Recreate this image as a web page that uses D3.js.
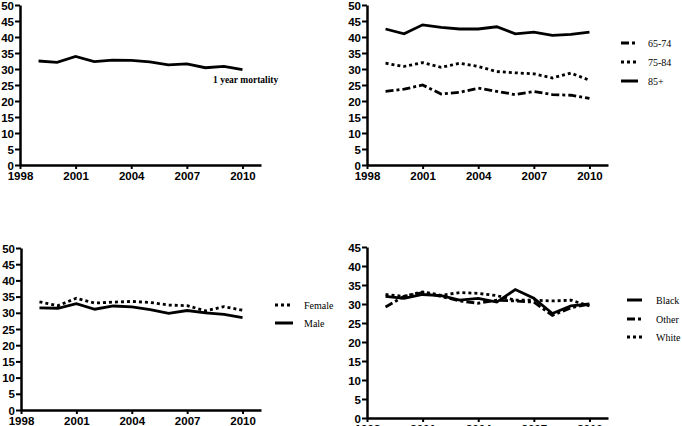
<!DOCTYPE html>
<html><head><meta charset="utf-8">
<script src="https://cdn.jsdelivr.net/npm/d3@7"></script>
<style>body{margin:0;background:#fff}svg{display:block}</style>
</head><body>
<script>
const years = [1999,2000,2001,2002,2003,2004,2005,2006,2007,2008,2009,2010];
const xTicks = [1998,2001,2004,2007,2010];
const overall = [32.5,32.1,33.9,32.3,32.8,32.7,32.2,31.3,31.6,30.4,30.8,29.8];
const age6574 = [23.0,23.7,25.0,22.2,22.7,24.0,23.0,22.0,23.0,22.0,21.8,20.8];
const age7584 = [31.8,30.8,32.0,30.5,31.8,30.8,29.2,28.8,28.5,27.2,28.7,26.5];
const age85 = [42.5,41.0,43.8,43.0,42.5,42.5,43.2,41.0,41.5,40.5,40.8,41.5];
const female = [33.4,32.2,34.5,33.0,33.3,33.5,33.2,32.4,32.2,30.6,31.9,30.8];
const male = [31.5,31.4,32.8,31.1,32.1,31.8,31.0,29.8,30.7,30.0,29.5,28.5];
const black = [32.0,31.5,32.5,32.2,31.0,31.5,30.5,33.8,31.5,27.5,29.5,30.0];
const other = [29.2,32.0,33.0,32.0,30.8,30.2,31.0,30.8,30.5,27.0,29.0,30.0];
const white = [32.5,32.0,33.2,32.3,33.0,32.8,32.2,31.0,31.0,30.8,31.0,29.5];
const yTicks50 = [0,5,10,15,20,25,30,35,40,45,50];
const yTicks45 = [0,5,10,15,20,25,30,35,40,45];

const W = 682, H = 426;
const svg = d3.select("body").append("svg").attr("width", W).attr("height", H);

const DOT = "3,3", DASHDOT = "8,3,3,3";

const panels = [
  {x0:20, x1:261, yb:165, yt:5, ymax:50, ticks:yTicks50,
   series:[{name:"1 year mortality", v:overall, dash:null}],
   legend:{type:"label", x:213, y:83}},
  {x0:367, x1:608, yb:165, yt:5, ymax:50, ticks:yTicks50,
   series:[{name:"65-74", v:age6574, dash:DASHDOT},{name:"75-84", v:age7584, dash:DOT},{name:"85+", v:age85, dash:null}],
   legend:{type:"lines", lx0:621, lx1:638, tx:648, ys:[43,62,81]}},
  {x0:21, x1:261, yb:410, yt:248, ymax:50, ticks:yTicks50,
   series:[{name:"Female", v:female, dash:DOT},{name:"Male", v:male, dash:null}],
   legend:{type:"lines", lx0:275, lx1:293, tx:304, ys:[305,323]}},
  {x0:367, x1:608, yb:418, yt:247, ymax:45, ticks:yTicks45,
   series:[{name:"Black", v:black, dash:null},{name:"Other", v:other, dash:DASHDOT},{name:"White", v:white, dash:DOT}],
   legend:{type:"lines", lx0:627, lx1:642, tx:656, ys:[300,319,337]}}
];

panels.forEach(p => {
  const x = d3.scaleLinear().domain([1998, 2011]).range([p.x0, p.x1]);
  const y = d3.scaleLinear().domain([0, p.ymax]).range([p.yb, p.yt]);
  const g = svg.append("g");

  const line = d3.line().x((d,i) => x(years[i])).y(d => y(d));
  p.series.forEach(s => {
    g.append("path").datum(s.v).attr("d", line)
      .attr("fill","none").attr("stroke","#000").attr("stroke-width",2.8)
      .attr("stroke-dasharray", s.dash);
  });

  const xa = g.append("g").attr("transform", `translate(0,${p.yb})`)
    .call(d3.axisBottom(x).tickValues(xTicks).tickFormat(d3.format("d")).tickSize(4).tickSizeOuter(0));
  const ya = g.append("g").attr("transform", `translate(${p.x0},0)`)
    .call(d3.axisLeft(y).tickValues(p.ticks).tickSize(5).tickSizeOuter(0).tickPadding(1));
  [xa, ya].forEach(a => {
    a.select(".domain").attr("stroke","#000").attr("stroke-width",2.5);
    a.selectAll(".tick line").attr("stroke","#000").attr("stroke-width",2);
    a.selectAll("text").attr("fill","#000")
      .style("font-family","Liberation Sans, Arial, sans-serif")
      .style("font-size","11.5px").style("font-weight","bold");
  });
  xa.selectAll("text").attr("dy","0.85em").attr("y",5);
  ya.selectAll("text").attr("dy","0.36em");

  const L = p.legend;
  if (L.type === "label") {
    g.append("text").attr("x", L.x).attr("y", L.y).text(p.series[0].name)
      .style("font-family","Liberation Serif, serif").style("font-size","9.5px").style("font-weight","bold");
  } else {
    p.series.forEach((s, i) => {
      g.append("line").attr("x1", L.lx0).attr("x2", L.lx1).attr("y1", L.ys[i]).attr("y2", L.ys[i])
        .attr("stroke","#000").attr("stroke-width",3).attr("stroke-dasharray", s.dash);
      g.append("text").attr("x", L.tx).attr("y", L.ys[i]).attr("dy","0.35em").text(s.name)
        .style("font-family","Liberation Serif, serif").style("font-size","10px");
    });
  }
});
</script>
</body></html>
